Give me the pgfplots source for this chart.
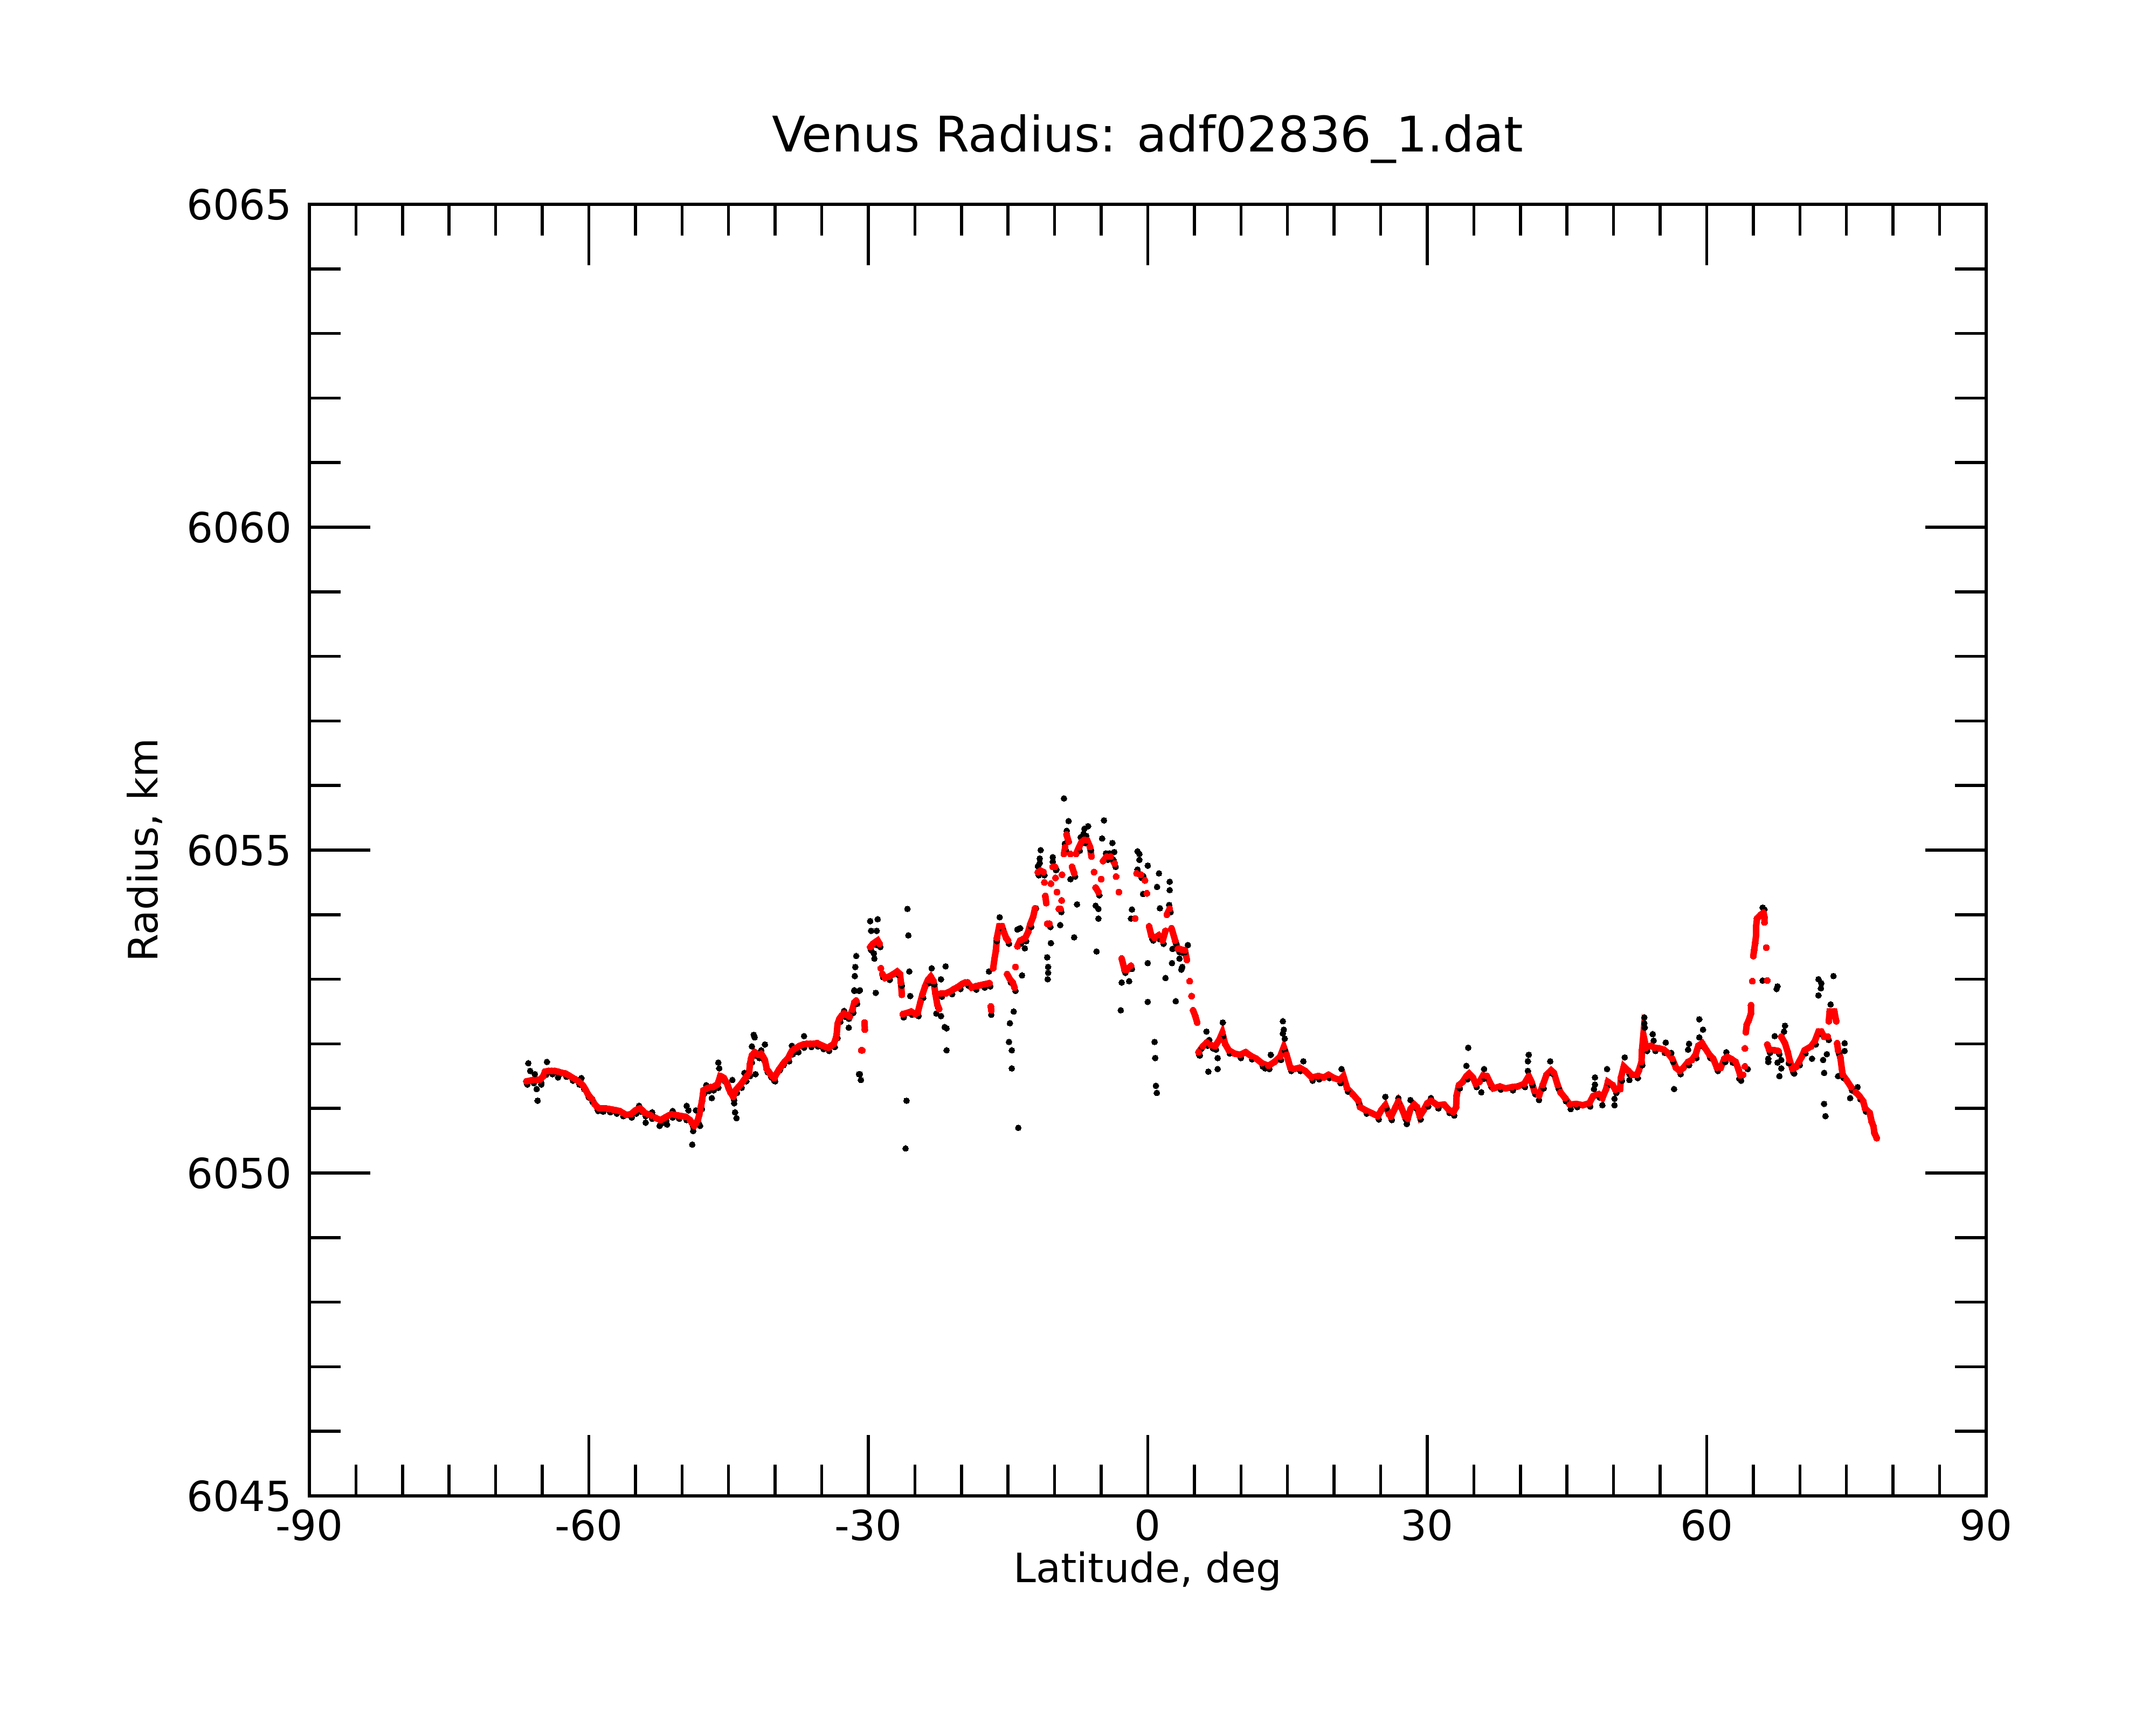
\documentclass[border=0pt]{standalone}
\usepackage{fontspec}
\setmainfont{DejaVu Sans}
\usepackage{pgfplots}
\usepackage{pgfplotstable}
\pgfplotsset{compat=1.18}

\pgfplotstableread{
x y
-66.7 6051.42
-66.3 6051.43
-66.0 6051.44
-65.6 6051.44
-65.2 6051.45
-64.9 6051.50
-64.7 6051.57
-64.35 6051.58
-64.0 6051.58
-63.65 6051.58
-63.3 6051.57
-62.9 6051.55
-62.5 6051.54
-62.15 6051.51
-61.8 6051.48
-61.45 6051.45
-61.1 6051.42
-60.85 6051.39
-60.6 6051.35
-60.35 6051.29
-60.1 6051.22
-59.9 6051.18
-59.7 6051.15
-59.4 6051.07
-59.15 6051.03
-58.9 6051.00
-58.55 6051.00
-58.2 6051.00
-57.8 6050.99
-57.4 6050.98
-57.05 6050.97
-56.7 6050.96
-56.35 6050.93
-56.0 6050.90
-55.5 6050.91
-55.25 6050.94
-55.0 6050.97
-54.75 6050.99
-54.5 6051.00
-54.25 6050.97
-54.0 6050.93
-53.65 6050.91
-53.3 6050.89
-52.8 6050.85
-52.3 6050.82
-52.05 6050.84
-51.8 6050.86
-51.45 6050.89
-51.1 6050.91
-50.75 6050.90
-50.4 6050.89
-50.0 6050.88
-49.6 6050.87
-49.15 6050.82
-48.9 6050.77
-48.7 6050.73
-48.5 6050.77
-48.3 6050.82
-48.15 6050.90
-48.06 6050.97
-47.95 6051.04
-47.85 6051.12
-47.75 6051.22
-47.7 6051.28
-47.45 6051.30
-47.2 6051.32
-46.95 6051.33
-46.7 6051.33
-46.45 6051.35
-46.2 6051.37
-46.05 6051.43
-45.9 6051.50
-45.7 6051.49
-45.5 6051.47
-45.3 6051.42
-45.1 6051.36
-44.95 6051.30
-44.8 6051.25
-44.5 6051.18
-44.35 6051.24
-44.2 6051.29
-43.95 6051.33
-43.7 6051.37
-43.45 6051.42
-43.2 6051.47
-43.0 6051.51
-42.8 6051.55
-42.7 6051.69
-42.6 6051.76
-42.5 6051.82
-42.2 6051.87
-42.0 6051.85
-41.8 6051.83
-41.5 6051.85
-41.3 6051.80
-41.1 6051.75
-40.9 6051.61
-40.7 6051.57
-40.5 6051.53
-40.3 6051.50
-40.1 6051.47
-39.8 6051.55
-39.6 6051.60
-39.4 6051.64
-39.2 6051.68
-39.0 6051.72
-38.6 6051.78
-38.4 6051.84
-38.2 6051.89
-37.95 6051.92
-37.7 6051.94
-37.35 6051.97
-37.0 6051.99
-36.6 6052.00
-36.2 6052.00
-35.85 6052.00
-35.5 6052.01
-35.2 6051.99
-34.9 6051.97
-34.6 6051.95
-34.3 6051.94
-34.0 6051.97
-33.7 6052.00
-33.5 6052.08
-33.4 6052.14
-33.3 6052.31
-33.1 6052.39
-32.85 6052.44
-32.6 6052.47
-32.4 6052.45
-32.2 6052.44
-32.0 6052.42
-31.7 6052.53
-31.5 6052.64
-31.3 6052.67
nan nan
-30.75 6051.90
-30.65 6051.90
nan nan
-30.4 6052.33
-30.38 6052.22
nan nan
-29.8 6053.50
-29.5 6053.55
-29.2 6053.58
-29.0 6053.60
-28.8 6053.55
nan nan
-28.65 6053.17
nan nan
-28.5 6053.08
-28.2 6053.02
-27.8 6053.04
-27.3 6053.08
-26.9 6053.12
-26.6 6053.08
-26.5 6052.95
-26.4 6052.76
nan nan
-26.3 6052.46
-25.8 6052.48
-25.4 6052.50
-24.96 6052.46
-24.7 6052.48
-24.4 6052.65
-24.2 6052.76
-23.9 6052.89
-23.6 6052.99
-23.3 6053.04
-23.0 6052.97
-22.8 6052.78
-22.6 6052.61
-22.4 6052.54
nan nan
-22.2 6052.78
-21.7 6052.78
-21.4 6052.80
-21.1 6052.82
-20.8 6052.85
-20.5 6052.87
-20.2 6052.90
-19.9 6052.93
-19.6 6052.95
-19.35 6052.95
-18.9 6052.87
-18.5 6052.89
-18.2 6052.90
-17.9 6052.91
-17.6 6052.92
-17.3 6052.93
-17.0 6052.94
nan nan
-16.85 6052.58
-16.8 6052.52
nan nan
-16.6 6053.17
-16.45 6053.32
-16.3 6053.45
-16.2 6053.64
-15.95 6053.82
-15.65 6053.82
-15.45 6053.73
-15.2 6053.64
-15.0 6053.60
nan nan
-15.1 6053.08
-14.8 6053.00
-14.5 6052.95
-14.3 6052.87
nan nan
-14.2 6053.19
nan nan
-14.0 6053.51
-13.7 6053.60
-13.4 6053.62
-13.15 6053.64
-12.85 6053.73
-12.6 6053.86
-12.3 6053.97
-12.1 6054.10
nan nan
-11.8 6054.66
-11.5 6054.68
-11.2 6054.66
nan nan
-11.1 6054.50
nan nan
-11.0 6054.29
-10.9 6054.18
nan nan
-10.8 6053.86
-10.55 6053.86
nan nan
-10.4 6054.48
nan nan
-10.2 6054.74
-9.95 6054.74
nan nan
-9.9 6054.57
nan nan
-9.75 6054.35
nan nan
-9.55 6054.09
-9.37 6054.09
nan nan
-9.25 6054.22
nan nan
-9.2 6054.62
nan nan
-9.0 6054.94
-8.87 6055.04
nan nan
-8.72 6055.24
-8.5 6055.13
nan nan
-8.3 6054.94
nan nan
-8.13 6054.74
-7.9 6054.64
nan nan
-7.7 6054.94
-7.4 6055.04
-7.1 6055.13
-6.8 6055.16
-6.5 6055.15
-6.2 6055.05
-6.05 6054.90
nan nan
-5.77 6054.66
nan nan
-5.6 6054.42
-5.3 6054.35
nan nan
-5.0 6054.55
nan nan
-4.8 6054.83
-4.4 6054.90
-4.0 6054.90
-3.55 6054.79
nan nan
-3.4 6054.59
nan nan
-3.1 6054.35
nan nan
-2.8 6053.32
-2.5 6053.15
-2.2 6053.15
-1.8 6053.21
nan nan
-1.35 6053.94
nan nan
-1.2 6054.64
-0.75 6054.62
-0.3 6054.53
nan nan
-0.1 6054.33
nan nan
0.14 6053.82
0.37 6053.68
0.73 6053.64
1.17 6053.68
1.6 6053.60
1.9 6053.75
nan nan
2.05 6054.00
2.35 6054.09
nan nan
2.55 6053.79
2.94 6053.60
3.24 6053.47
3.6 6053.46
3.98 6053.45
4.2 6053.30
nan nan
4.5 6052.97
nan nan
4.7 6052.74
nan nan
4.86 6052.52
5.1 6052.43
5.3 6052.33
nan nan
5.45 6051.87
5.9 6051.96
6.34 6052.02
6.8 6051.98
7.22 6051.96
7.7 6052.07
8.0 6052.17
8.3 6052.00
8.7 6051.90
9.3 6051.85
9.9 6051.83
10.5 6051.87
11.1 6051.81
11.65 6051.77
12.25 6051.70
12.95 6051.66
13.6 6051.72
14.2 6051.80
14.6 6051.95
14.9 6051.83
15.3 6051.63
15.7 6051.61
16.3 6051.63
16.9 6051.58
17.6 6051.48
18.3 6051.50
18.9 6051.48
19.4 6051.52
20.0 6051.47
20.6 6051.44
21.0 6051.50
21.4 6051.31
22.0 6051.22
22.6 6051.12
22.8 6051.02
23.4 6050.97
24.0 6050.93
24.7 6050.88
25.1 6050.98
25.5 6051.05
25.9 6050.91
26.1 6050.87
26.6 6051.02
26.9 6051.11
27.2 6051.02
27.6 6050.88
27.9 6050.84
28.2 6050.99
28.6 6051.06
28.9 6051.02
29.2 6050.88
29.6 6050.97
30.0 6051.08
30.4 6051.12
31.1 6051.05
31.8 6051.06
32.3 6050.98
32.8 6050.94
33.1 6051.02
33.15 6051.20
33.4 6051.36
33.8 6051.41
34.2 6051.50
34.5 6051.54
34.9 6051.48
35.2 6051.38
35.6 6051.41
36.0 6051.51
36.4 6051.50
36.8 6051.38
37.1 6051.31
37.8 6051.34
38.4 6051.31
39.1 6051.33
39.7 6051.34
40.4 6051.38
40.9 6051.50
41.2 6051.41
41.5 6051.27
42.0 6051.20
42.4 6051.36
42.8 6051.52
43.3 6051.59
43.6 6051.55
44.0 6051.36
44.3 6051.25
44.8 6051.16
45.3 6051.06
46.0 6051.07
46.7 6051.05
47.4 6051.08
47.8 6051.19
48.4 6051.22
48.8 6051.16
49.2 6051.30
49.4 6051.41
49.9 6051.36
50.2 6051.29
50.7 6051.30
50.8 6051.48
51.1 6051.65
51.6 6051.58
52.0 6051.52
52.5 6051.52
52.7 6051.58
53.0 6051.72
53.05 6051.90
53.2 6052.14
53.5 6051.94
54.0 6051.97
54.4 6051.94
54.9 6051.93
55.4 6051.91
55.8 6051.86
56.3 6051.77
56.7 6051.63
57.1 6051.58
57.5 6051.63
58.0 6051.72
58.4 6051.75
58.8 6051.83
59.1 6051.97
59.5 6052.01
59.8 6051.94
60.3 6051.83
60.7 6051.77
61.1 6051.63
61.5 6051.63
61.9 6051.77
62.2 6051.80
62.7 6051.76
63.1 6051.72
63.4 6051.61
63.6 6051.51
63.9 6051.52
nan nan
64.1 6051.65
nan nan
64.1 6051.93
nan nan
64.2 6052.18
64.3 6052.30
64.5 6052.36
64.75 6052.47
64.75 6052.60
nan nan
64.9 6052.97
nan nan
65.0 6053.36
65.1 6053.46
65.2 6053.56
65.3 6053.68
65.3 6053.82
65.4 6053.94
65.8 6054.00
66.1 6054.03
66.2 6053.96
66.2 6053.88
nan nan
66.4 6053.49
nan nan
66.5 6052.98
nan nan
66.5 6051.99
66.7 6051.91
67.3 6051.90
67.7 6051.89
nan nan
68.0 6052.11
68.4 6052.01
68.7 6051.87
68.9 6051.75
69.2 6051.61
69.6 6051.64
69.9 6051.72
70.2 6051.80
70.5 6051.90
71.2 6051.96
71.6 6052.04
72.0 6052.19
72.3 6052.19
72.6 6052.11
73.0 6052.11
nan nan
73.1 6052.35
73.2 6052.50
73.7 6052.50
73.9 6052.35
nan nan
74.0 6052.01
74.1 6051.90
74.35 6051.79
74.5 6051.62
74.6 6051.52
75.0 6051.44
75.5 6051.33
76.0 6051.25
76.4 6051.19
76.8 6051.11
77.0 6051.00
77.5 6050.93
77.7 6050.80
77.9 6050.72
78.0 6050.62
78.25 6050.54
}\redtab

\pgfplotstableread{
x y
-66.5 6051.70
-66.3 6051.58
-65.8 6051.53
-65.6 6051.30
-65.5 6051.12
-65.1 6051.37
-64.5 6051.72
-63.3 6051.48
-60.8 6051.47
-59.0 6050.96
-54.6 6051.04
-53.9 6050.78
-53.2 6050.94
-52.4 6050.73
-51.6 6050.75
-51.0 6050.96
-49.5 6051.04
-49.3 6050.97
-48.8 6050.65
-48.9 6050.44
-48.06 6050.73
-48.5 6050.97
-47.4 6051.36
-46.8 6051.16
-46.1 6051.71
-46.0 6051.62
-44.6 6051.44
-44.4 6051.08
-44.3 6050.94
-44.15 6050.85
-42.3 6052.14
-42.2 6052.10
-42.5 6051.96
-41.1 6051.99
-41.5 6051.90
-42.1 6051.53
-43.3 6051.55
-40.1 6051.43
-36.9 6052.12
-38.2 6051.97
-37.5 6051.87
-32.6 6052.51
-32.1 6052.25
-31.5 6052.82
-31.0 6052.82
-30.9 6051.53
-30.8 6051.44
-9.0 6055.80
-8.5 6055.45
-4.7 6055.46
-4.9 6055.18
-6.4 6055.37
-6.8 6055.33
-11.5 6055.00
-11.6 6054.87
-10.2 6054.89
-3.8 6055.11
-0.9 6054.94
0.0 6054.76
1.2 6054.64
2.35 6054.51
2.35 6054.38
-8.3 6054.55
-7.6 6054.16
-5.6 6054.14
-5.3 6054.09
-5.3 6053.94
-9.4 6053.84
-7.9 6053.65
-5.5 6053.43
-10.4 6053.56
-10.8 6053.34
-10.7 6053.19
-10.7 6053.10
-10.75 6053.00
-1.7 6054.08
-1.8 6053.94
1.3 6054.10
-2.8 6052.95
-2.0 6052.97
-2.9 6052.52
0.0 6053.25
0.0 6052.65
0.73 6052.03
0.8 6051.78
0.87 6051.35
0.97 6051.24
1.9 6053.02
2.6 6053.25
3.0 6052.66
3.6 6053.15
4.3 6053.53
6.5 6051.57
7.5 6051.61
7.5 6051.78
8.05 6052.33
6.3 6052.19
-29.8 6053.90
-29.0 6053.93
-29.7 6053.75
-29.1 6053.75
-31.3 6053.36
-31.4 6053.19
-31.45 6053.05
-31.5 6052.83
-30.9 6052.83
-29.4 6053.40
-29.35 6053.32
-29.2 6052.79
-31.0 6051.53
-25.8 6054.09
-25.7 6053.68
-25.6 6053.12
-25.5 6052.74
-25.9 6051.12
-26.0 6050.38
-23.2 6053.17
-21.7 6053.20
-22.2 6053.00
-21.8 6052.26
-21.6 6052.24
-21.6 6051.90
-22.7 6052.47
-22.2 6052.43
-17.05 6053.12
-16.8 6052.45
-14.4 6052.50
-14.8 6052.32
-14.9 6052.03
-14.6 6051.90
-14.6 6051.62
-13.9 6050.70
-14.0 6053.77
-13.7 6053.79
-13.5 6053.06
-13.2 6053.48
-15.9 6053.96
-12.0 6054.10
-1.1 6054.98
-0.9 6054.85
-0.5 6054.32
1.0 6054.43
2.65 6053.47
3.4 6053.32
3.7 6053.19
-11.8 6054.75
-11.6 6054.80
-10.2 6054.82
-9.8 6054.70
-8.9 6055.10
-8.7 6055.30
-7.2 6055.20
-6.9 6055.25
-6.6 6055.22
-4.5 6054.95
-4.1 6054.95
-3.7 6054.85
-3.6 6054.97
-1.1 6054.70
-0.5 6054.60
0.6 6053.60
1.3 6053.62
1.7 6053.55
2.3 6054.15
3.4 6053.42
4.0 6053.42
5.6 6051.82
5.8 6051.93
6.6 6052.06
7.0 6051.93
14.5 6052.35
14.6 6052.22
14.5 6052.16
14.7 6052.08
34.4 6051.94
34.2 6051.66
40.9 6051.83
40.8 6051.73
40.8 6051.58
43.2 6051.73
16.7 6051.73
20.8 6051.61
27.8 6050.76
25.5 6051.18
26.9 6051.16
28.2 6051.13
30.4 6051.16
13.2 6051.83
12.6 6051.62
35.8 6051.25
36.1 6051.61
42.0 6051.13
45.4 6050.99
53.3 6052.41
53.3 6052.32
53.35 6052.25
54.2 6052.15
54.3 6052.05
55.6 6052.02
56.2 6051.86
56.5 6051.30
59.2 6052.38
59.6 6052.22
59.2 6052.10
58.1 6052.00
58.0 6051.91
48.0 6051.48
48.0 6051.37
47.9 6051.30
49.3 6051.61
48.8 6051.05
50.1 6051.15
50.1 6051.05
51.2 6051.79
51.7 6051.44
62.1 6051.87
63.7 6051.43
64.4 6051.61
66.0 6054.11
66.2 6054.08
66.0 6052.98
67.6 6052.89
67.5 6052.85
72.0 6053.00
72.3 6052.94
72.25 6052.86
72.0 6052.75
73.6 6053.05
73.3 6052.61
68.4 6052.28
68.3 6052.19
67.3 6052.12
66.6 6051.77
66.6 6051.72
68.0 6051.75
67.6 6051.71
68.0 6051.62
67.8 6051.50
69.4 6051.54
71.3 6051.77
72.9 6051.84
72.5 6051.75
72.6 6051.55
72.6 6051.07
72.75 6050.88
74.8 6052.01
74.8 6051.89
74.1 6051.50
75.4 6051.16
76.2 6051.33
-66.6 6051.37
-65.9 6051.39
-65.1 6051.40
-64.6 6051.52
-63.9 6051.53
-63.2 6051.52
-62.4 6051.49
-61.7 6051.43
-61.0 6051.37
-60.5 6051.30
-60.0 6051.17
-59.6 6051.10
-59.05 6050.98
-58.45 6050.95
-57.7 6050.94
-57.0 6050.92
-56.3 6050.88
-55.4 6050.86
-54.9 6050.92
-54.4 6050.95
-53.9 6050.88
-53.2 6050.84
-52.2 6050.77
-51.7 6050.81
-51.0 6050.86
-50.3 6050.84
-49.5 6050.82
-48.8 6050.72
-48.2 6050.77
-47.85 6050.99
-47.6 6051.23
-47.1 6051.27
-46.6 6051.28
-46.1 6051.32
-45.8 6051.45
-45.4 6051.42
-45.0 6051.31
-44.4 6051.13
-44.1 6051.24
-43.6 6051.32
-43.1 6051.42
-42.7 6051.50
-42.5 6051.71
-42.1 6051.82
-41.7 6051.78
-41.2 6051.75
-40.8 6051.56
-40.4 6051.48
-40.0 6051.42
-39.5 6051.59
-39.1 6051.67
-38.5 6051.73
-38.1 6051.84
-37.6 6051.89
-36.9 6051.94
-36.1 6051.95
-35.4 6051.96
-34.8 6051.92
-34.2 6051.89
-33.6 6051.95
-33.3 6052.09
-33.0 6052.34
-32.5 6052.42
-32.1 6052.39
-31.6 6052.48
-31.2 6052.62
-29.7 6053.45
-29.1 6053.53
-28.7 6053.50
-28.4 6053.03
-27.7 6052.99
-26.8 6053.07
-26.4 6052.90
-26.2 6052.41
-25.3 6052.45
-24.6 6052.43
-24.1 6052.71
-23.5 6052.94
-22.9 6052.92
-22.5 6052.56
-22.1 6052.73
-21.0 6052.77
-20.1 6052.85
-19.25 6052.90
-18.4 6052.84
-17.5 6052.87
-16.9 6052.89
-16.2 6053.59
-15.55 6053.77
-14.9 6053.55
-14.7 6052.95
-14.2 6052.82
-13.6 6053.55
-13.05 6053.59
-12.5 6053.81
-11.7 6054.61
-11.1 6054.61
-10.45 6053.81
-9.85 6054.69
-9.27 6054.04
-8.77 6054.99
-7.8 6054.59
-7.3 6054.99
-6.7 6055.11
-6.1 6055.00
-5.2 6054.30
-4.3 6054.85
-3.45 6054.74
-2.4 6053.10
-1.7 6053.16
-0.65 6054.57
0.47 6053.63
1.27 6053.63
2.45 6054.04
3.04 6053.55
3.7 6053.41
5.55 6051.82
6.44 6051.97
7.32 6051.91
8.1 6052.12
8.8 6051.85
10.0 6051.78
11.2 6051.76
12.35 6051.65
13.05 6051.61
14.3 6051.75
14.7 6051.90
15.4 6051.58
16.4 6051.58
17.7 6051.43
18.4 6051.45
19.5 6051.47
20.7 6051.39
21.5 6051.26
22.7 6051.07
23.5 6050.92
24.8 6050.83
25.6 6051.00
26.2 6050.82
27.0 6051.06
27.7 6050.83
28.7 6051.01
29.3 6050.83
30.1 6051.03
31.2 6051.00
32.4 6050.93
32.9 6050.89
33.5 6051.31
34.3 6051.45
34.6 6051.49
35.3 6051.33
36.1 6051.46
36.9 6051.33
37.9 6051.29
39.2 6051.28
40.5 6051.33
41.3 6051.36
41.6 6051.22
42.5 6051.31
43.4 6051.54
44.1 6051.31
44.9 6051.11
46.1 6051.02
47.5 6051.03
48.5 6051.17
49.5 6051.36
50.3 6051.24
50.9 6051.43
51.7 6051.53
52.6 6051.47
53.1 6051.67
53.6 6051.89
54.5 6051.89
55.5 6051.86
56.4 6051.72
57.2 6051.53
58.1 6051.67
58.9 6051.78
59.6 6051.96
60.4 6051.78
61.2 6051.58
62.0 6051.72
62.8 6051.71
63.5 6051.46
66.8 6051.86
67.8 6051.84
68.8 6051.70
69.3 6051.56
70.0 6051.67
70.6 6051.85
71.7 6051.99
72.4 6052.14
73.1 6052.06
74.2 6051.85
74.7 6051.47
75.6 6051.28
76.5 6051.14
77.1 6050.95
}\blacktab

\begin{document}
\begin{tikzpicture}
\begin{axis}[
  scale only axis,
  width=311.1bp, height=239.6bp,
  xmin=-90, xmax=90, ymin=6045, ymax=6065,
  xtick={-90,-60,-30,0,30,60,90},
  xticklabels={-90,-60,-30,0,30,60,90},
  ytick={6045,6050,6055,6060,6065},
  yticklabels={6045,6050,6055,6060,6065},
  minor x tick num=5, minor y tick num=4,
  tick align=inside,
  major tick length=11.3bp, minor tick length=5.8bp,
  axis line style={line width=0.55bp},
  every tick/.style={black, line width=0.55bp},
  tick label style={font=\fontsize{7.7bp}{9bp}\selectfont},
  xticklabel style={anchor=north, inner sep=0pt, yshift=-2.3bp},
  yticklabel style={anchor=east, inner sep=0pt, xshift=-3.0bp},
  label style={font=\fontsize{7.5bp}{9bp}\selectfont},
  xlabel={Latitude, deg},
  ylabel={Radius, km},
  xlabel style={at={(axis description cs:0.5,-0.0668)}, anchor=base, inner sep=0pt},
  ylabel style={at={(axis description cs:-0.0906,0.5)}, anchor=base, inner sep=0pt},
  title={Venus Radius: adf02836\_1.dat},
  title style={at={(axis description cs:0.5,1.0405)}, anchor=base, inner sep=0pt, yshift=-6pt, font=\fontsize{9.1bp}{11bp}\selectfont},
]
\addplot[only marks, black, mark=*, mark size=0.55bp, mark options={line width=0pt}] table[x=x,y=y]{\blacktab};
\addplot[red, line width=1.2bp, mark=*, mark size=0.58bp, mark options={line width=0pt}, unbounded coords=jump] table[x=x,y=y]{\redtab};
\end{axis}
\pgfresetboundingbox
\path (-57.4bp,-42.5bp) rectangle (342.6bp,277.5bp);
\end{tikzpicture}
\end{document}
